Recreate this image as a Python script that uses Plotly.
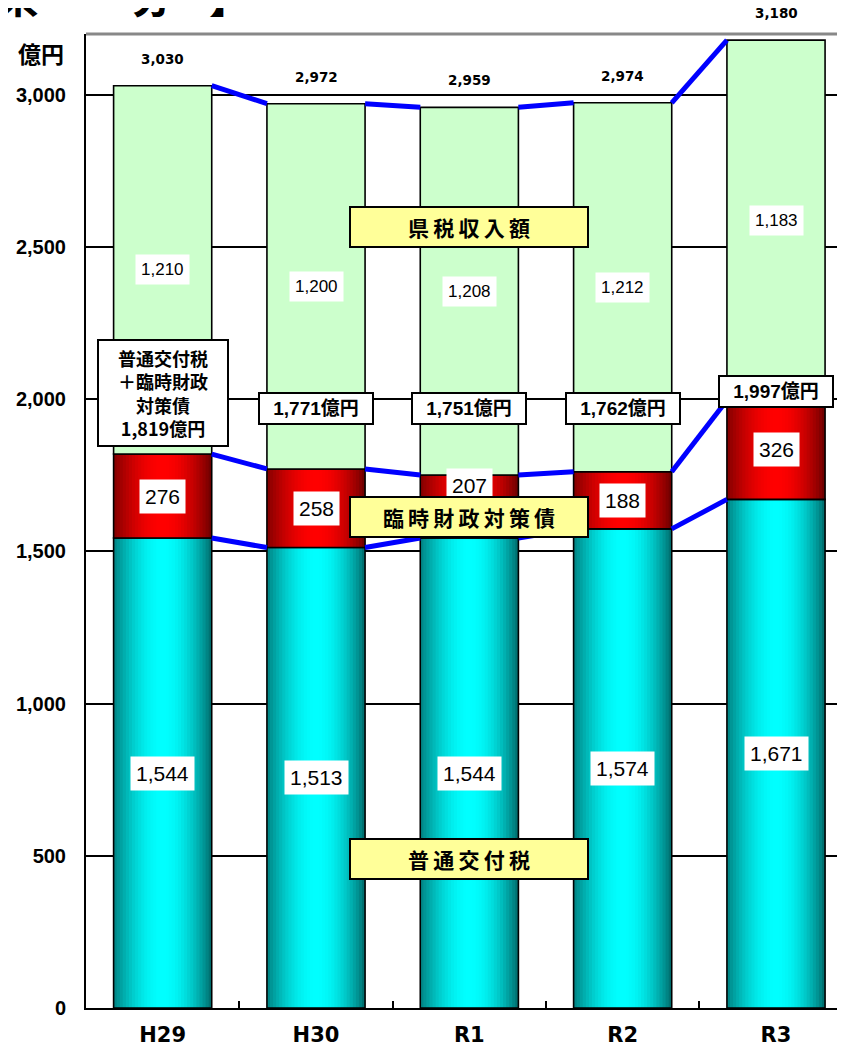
import math
import plotly.graph_objects as go

# ---------------- data ----------------
categories = ["H29", "H30", "R1", "R2", "R3"]
futsu_kofuzei = [1544, 1513, 1544, 1574, 1671]     # 普通交付税
rinji_zaisei = [276, 258, 207, 188, 326]           # 臨時財政対策債
kenzei = [1210, 1200, 1208, 1212, 1183]            # 県税収入額
total_labels = [3030, 2972, 2959, 2974, 3180]      # 合計
subtotal_labels = [1819, 1771, 1751, 1762, 1997]   # 普通交付税＋臨時財政対策債
y_ticks = [0, 500, 1000, 1500, 2000, 2500, 3000]

series_names = ["普通交付税", "臨時財政対策債", "県税収入額"]

# ---------------- layout / style settings ----------------
BW = 0.64            # bar width (category units)
N_STRIPS = 32
subtotal_label_y = [2022, 1971, 1971, 1971, 2026]   # label box positions (y units)
red_label_yshift = {2: 21}                           # pixel nudges
NUM_FONT = "Liberation Sans, Arial, Noto Sans CJK JP"
WIDE_FONT = "DejaVu Sans, Liberation Sans"
JP_FONT = "Noto Sans CJK JP, Liberation Sans"

# figure geometry (page body has an 8px margin)
FIG_W, FIG_H = 837, 1040
ML, MT, MB = 78, 26, 40
PLOT_W = FIG_W - ML
PLOT_H = FIG_H - MT - MB


def px_x(p):
    return (p - ML) / PLOT_W


def px_y(p):
    return 1 - (p - MT) / PLOT_H


x = list(range(len(categories)))
red_base = list(futsu_kofuzei)
green_base = [a + b for a, b in zip(futsu_kofuzei, rinji_zaisei)]
tops = [a + b for a, b in zip(green_base, kenzei)]


def grad_color(t, dark_l, bright, dark_r):
    f = math.sin(math.pi * t) ** 0.9
    dark = [dl + (dr - dl) * t for dl, dr in zip(dark_l, dark_r)]
    c = [round(d + (b - d) * f) for d, b in zip(dark, bright)]
    return "rgb(%d,%d,%d)" % tuple(c)


fig = go.Figure()


def gradient_bars(y, base, dark_l, bright, dark_r):
    step = BW / N_STRIPS
    for k in range(N_STRIPS):
        t = (k + 0.5) / N_STRIPS
        fig.add_trace(go.Bar(
            x=x, y=y, base=base,
            width=step * 1.35 if k < N_STRIPS - 1 else step,
            offset=-BW / 2 + k * step,
            marker=dict(color=grad_color(t, dark_l, bright, dark_r), line=dict(width=0)),
            hoverinfo="skip", showlegend=False,
        ))
    fig.add_trace(go.Bar(
        x=x, y=y, base=base, width=BW,
        marker=dict(color="rgba(0,0,0,0)", line=dict(color="black", width=1.6)),
        hoverinfo="skip", showlegend=False,
    ))


# 普通交付税 (cyan gradient)
gradient_bars(futsu_kofuzei, [0] * len(x), (0, 128, 128), (0, 255, 255), (0, 104, 104))
# 臨時財政対策債 (red gradient)
gradient_bars(rinji_zaisei, red_base, (128, 0, 0), (255, 0, 0), (104, 0, 0))
# 県税収入額 (light green)
fig.add_trace(go.Bar(
    x=x, y=kenzei, base=green_base, width=BW, name=series_names[2],
    marker=dict(color="#CCFFCC", line=dict(color="black", width=1.6)),
    hoverinfo="skip", showlegend=False,
))

# connector lines (blue) between bar tops
for level in (futsu_kofuzei, green_base, tops):
    lx, ly = [], []
    for i in range(len(x) - 1):
        lx += [x[i] + BW / 2, x[i + 1] - BW / 2, None]
        ly += [level[i], level[i + 1], None]
    fig.add_trace(go.Scatter(
        x=lx, y=ly, mode="lines",
        line=dict(color="#0000FF", width=5),
        hoverinfo="skip", showlegend=False,
    ))

ann = []
# value labels
for i in x:
    ann.append(dict(x=x[i], y=futsu_kofuzei[i] / 2, text=f"{futsu_kofuzei[i]:,}",
                    showarrow=False, bgcolor="white", borderpad=5,
                    font=dict(family=NUM_FONT, size=21, color="black")))
    ann.append(dict(x=x[i], y=red_base[i] + rinji_zaisei[i] / 2, text=f"{rinji_zaisei[i]:,}",
                    showarrow=False, bgcolor="white", borderpad=5,
                    yshift=red_label_yshift.get(i, 0),
                    font=dict(family=NUM_FONT, size=21, color="black")))
    ann.append(dict(x=x[i], y=green_base[i] + kenzei[i] / 2, text=f"{kenzei[i]:,}",
                    showarrow=False, bgcolor="white", borderpad=5,
                    font=dict(family=NUM_FONT, size=17, color="black")))
    ann.append(dict(x=x[i], y=tops[i], text=f"{total_labels[i]:,}", yshift=27,
                    showarrow=False,
                    font=dict(family=WIDE_FONT, size=13.5, color="black", weight="bold")))
    if i == 0:
        txt = f"普通交付税<br>＋臨時財政<br>対策債<br>{subtotal_labels[i]:,}億円"
        ann.append(dict(x=x[i], y=subtotal_label_y[i], text=txt, showarrow=False,
                        bgcolor="white", bordercolor="black", borderwidth=2, borderpad=4,
                        width=120, align="center",
                        font=dict(family=JP_FONT, size=18, color="black", weight="bold")))
    else:
        ann.append(dict(x=x[i], y=subtotal_label_y[i], text=f"{subtotal_labels[i]:,}億円",
                        showarrow=False, bgcolor="white", bordercolor="black",
                        borderwidth=2, borderpad=4, width=104,
                        font=dict(family=NUM_FONT, size=19, color="black", weight="bold")))

# series name boxes (yellow)
SP = "\u2009"
name_pos_y = [490, 1613, 2565]
for nm, yy in zip(series_names, name_pos_y):
    ann.append(dict(x=2, y=yy, text=SP.join(nm), showarrow=False,
                    bgcolor="#FFFF99", bordercolor="black", borderwidth=2, borderpad=4,
                    width=228, height=30,
                    font=dict(family=JP_FONT, size=21, color="black", weight="bold")))

# unit label
ann.append(dict(xref="paper", yref="paper", x=px_x(33), y=px_y(45), text="億円",
                xanchor="center", yanchor="middle", showarrow=False,
                font=dict(family=JP_FONT, size=23, color="black", weight="bold")))
# partially visible heading at the very top
for ch, cx in (("県", 10), ("分", 144), ("】", 222)):
    ann.append(dict(xref="paper", yref="paper", x=px_x(cx), y=px_y(19),
                    xanchor="center", yanchor="bottom", text=ch, showarrow=False,
                    font=dict(family=JP_FONT, size=42, color="black", weight="bold")))

fig.update_layout(
    width=FIG_W, height=FIG_H,
    margin=dict(l=ML, r=0, t=MT, b=MB),
    plot_bgcolor="white", paper_bgcolor="white",
    barmode="overlay", showlegend=False,
    annotations=ann,
    shapes=[dict(type="line", xref="paper", yref="paper", x0=0, x1=1, y0=1, y1=1,
                 line=dict(color="#888888", width=3))],
    xaxis=dict(range=[-0.5, 4.45], tickmode="array", tickvals=x, ticktext=categories,
               showline=True, linecolor="black", linewidth=2, showgrid=False,
               zeroline=False, ticks="", ticklabelstandoff=7,
               tickfont=dict(family=WIDE_FONT, size=21, color="black", weight="bold"),
               minor=dict(tickmode="array", tickvals=[i + 0.5 for i in x[:-1]],
                          ticks="inside", ticklen=7, tickwidth=1.5, tickcolor="black",
                          showgrid=False)),
    yaxis=dict(range=[0, 3200], tickmode="array", tickvals=y_ticks, tickformat=",",
               showline=True, linecolor="black", linewidth=2,
               showgrid=True, gridcolor="black", gridwidth=1.5,
               zeroline=False, ticks="", ticklabelstandoff=14,
               tickfont=dict(family=NUM_FONT, size=20, color="black", weight="bold")),
)

fig.write_html("out.html")
